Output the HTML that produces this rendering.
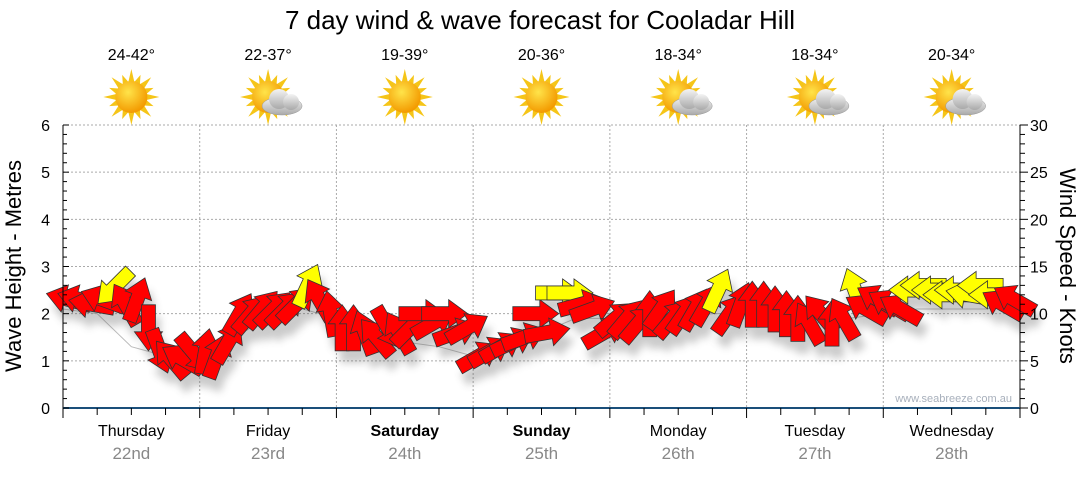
<!DOCTYPE html>
<html><head><meta charset="utf-8"><style>
body{margin:0;background:#fff;width:1080px;height:475px;overflow:hidden;font-family:"Liberation Sans",sans-serif}
svg text{font-family:"Liberation Sans","DejaVu Sans",sans-serif}
</style></head><body>
<svg id="c" width="1080" height="475">
<defs>
<filter id="sh" x="-50%" y="-50%" width="200%" height="200%"><feGaussianBlur stdDeviation="4"/></filter>
<radialGradient id="sun" cx="40%" cy="35%" r="65%"><stop offset="0" stop-color="#ffe44a"/><stop offset="1" stop-color="#f39a00"/></radialGradient>
<linearGradient id="cl" x1="0" y1="0" x2="0" y2="1"><stop offset="0" stop-color="#f4f4f4"/><stop offset="1" stop-color="#a9a9a9"/></linearGradient>
</defs>
<text x="540" y="29" font-size="26" text-anchor="middle" fill="#000">7 day wind &amp; wave forecast for Cooladar Hill</text>
<g id="grid"></g><g id="wave"></g><g id="shadows" filter="url(#sh)" opacity="0.3"></g><g id="arrows"></g><g id="axes"></g><g id="top"></g>
<text x="1012" y="402" font-size="11" fill="#a8b0bc" text-anchor="end">www.seabreeze.com.au</text>
<text transform="translate(21,266) rotate(-90)" font-size="22" text-anchor="middle">Wave Height - Metres</text>
<text transform="translate(1060,266) rotate(90)" font-size="22" text-anchor="middle">Wind Speed - Knots</text>
</svg>
<script>
const days=["Thursday","Friday","Saturday","Sunday","Monday","Tuesday","Wednesday"];
const dates=["22nd","23rd","24th","25th","26th","27th","28th"];
const temps=["24-42°","22-37°","19-39°","20-36°","18-34°","18-34°","20-34°"];
const cloudy=[0,1,0,0,1,1,1];
const windSpeed=[11.5,11.5,11,11.5,12.8,11,11.5,8.5,6,5.2,5.2,5.8,
6,5.5,7,10,10,10.5,10.5,10.5,11,13,11.5,10,
8.5,8.5,8,7.5,8.5,8,8.5,10,9,10,8,8.5,
5.5,6,6.5,7,7.5,10,8,12.2,12.2,11,10.5,8,
9.5,9.5,9,10,10.5,9.5,10,10.5,11,12.5,10,11,
11,11,10.5,10,9.5,9,10,9,9.5,12.5,10.5,11.5,
11,10.5,12.5,13,12.5,12,12.5,12,13,12,11,11.5];
const windDir=[285,285,280,290,225,330,20,180,160,320,300,140,
10,20,30,30,40,40,45,45,45,25,330,350,
0,0,340,320,150,330,45,90,60,90,70,60,
60,60,60,65,70,90,80,90,90,75,70,60,
50,40,40,0,35,40,35,30,30,25,35,20,
0,0,0,0,0,330,320,0,330,340,300,300,
300,300,270,270,270,270,270,280,270,270,300,300];
const yellow=[0,0,0,0,1,0,0,0,0,0,0,0, 0,0,0,0,0,0,0,0,0,1,0,0, 0,0,0,0,0,0,0,0,0,0,0,0,
0,0,0,0,0,0,0,1,1,0,0,0, 0,0,0,0,0,0,0,0,0,1,0,0, 0,0,0,0,0,0,0,0,0,1,0,0, 0,0,1,1,1,1,1,1,1,1,0,0];
const waveM=[2.1,2.0,1.3,1.1,1.2,1.5,1.9,2.1,1.9,1.6,1.4,1.3,1.1,1.3,1.6,1.9,1.9,1.8,1.9,2.0,2.0,1.9,1.8,1.9,2.0,2.1,2.1,2.1,2.2];
const X0=63,X1=1020,Y0=408,YT=125,HOURS=168;
const xs=h=>X0+h*(X1-X0)/HOURS, ym=m=>Y0-m*(Y0-YT)/6, yk=k=>Y0-k*(Y0-YT)/30;
const NS="http://www.w3.org/2000/svg";
function mk(p,t,a){const e=document.createElementNS(NS,t);for(const k in a)e.setAttribute(k,a[k]);p.appendChild(e);return e;}
const G=id=>document.getElementById(id);
for(let m=1;m<=6;m++){const l=mk(G('grid'),'line',{x1:X0,x2:X1,y1:ym(m),y2:ym(m),stroke:'#aaa','stroke-dasharray':'2,2'});

}
for(let d=1;d<7;d++){const l=mk(G('grid'),'line',{x1:xs(d*24),x2:xs(d*24),y1:YT,y2:Y0,stroke:'#aaa','stroke-dasharray':'2,2'});

}
const wl=mk(G('wave'),'polyline',{points:waveM.map((m,i)=>xs(i*6)+','+ym(m)).join(' '),fill:'none',stroke:'#bbb','stroke-width':1});


const A=G('axes');
mk(A,'line',{x1:X0,x2:X0,y1:YT,y2:Y0,stroke:'#000'});
mk(A,'line',{x1:X1,x2:X1,y1:YT,y2:Y0,stroke:'#000'});
mk(A,'line',{x1:X0,x2:X1,y1:Y0,y2:Y0,stroke:'#1a4f7a','stroke-width':2});
for(let i=0;i<=30;i++){const m=i/5,y=ym(m);mk(A,'line',{x1:X0,x2:X0+(i%5?4:6),y1:y,y2:y,stroke:'#000'});}
for(let m=0;m<=6;m++){const t=mk(A,'text',{x:50,y:ym(m)+6,'font-size':16,'text-anchor':'end'});t.textContent=m;

}
for(let k=0;k<=30;k++){const y=yk(k);mk(A,'line',{x1:X1,x2:X1+(k%5?5:8),y1:y,y2:y,stroke:'#000'});}
for(let k=0;k<=30;k+=5){const t=mk(A,'text',{x:1030,y:yk(k)+6,'font-size':16});t.textContent=k;

}
for(let h=0;h<=HOURS;h+=6){const x=xs(h);mk(A,'line',{x1:x,x2:x,y1:Y0,y2:Y0+(h%24?7:10),stroke:'#000'});}
windSpeed.forEach((k,i)=>{const x=xs(i*2+1),y=yk(k);
const pts="-7,23 7,23 7,-4 14,-4 0,-23 -14,-4 -7,-4";
mk(G('shadows'),'polygon',{points:pts,transform:`translate(${x+5},${y+12}) rotate(${windDir[i]})`,fill:'#555'});
const a=mk(G('arrows'),'polygon',{points:pts,transform:`translate(${x},${y}) rotate(${windDir[i]})`,fill:yellow[i]?'#ffff00':'#ff0000',stroke:'#333','stroke-width':0.8});

});
const T=G('top');
days.forEach((d,i)=>{const cx=xs(i*24+12);
const a=mk(T,'text',{x:cx,y:436,'font-size':16,'text-anchor':'middle','font-weight':(i==2||i==3)?'bold':'normal'});a.textContent=d;


const b=mk(T,'text',{x:cx,y:459,'font-size':17,'text-anchor':'middle',fill:'#888'});b.textContent=dates[i];


const c=mk(T,'text',{x:cx,y:60,'font-size':16,'text-anchor':'middle'});c.textContent=temps[i];


const g=mk(T,'g',{transform:`translate(${cx},${97})`});


for(let r=0;r<16;r++){mk(g,'polygon',{points:`-3,-15 0,${r%2?-24:-28} 3,-15`,fill:'#f5c518',transform:`rotate(${r*22.5})`});}
mk(g,'circle',{r:16,fill:'url(#sun)'});
if(cloudy[i]){const cg=mk(g,'g',{transform:'translate(14,5)'});
mk(cg,'ellipse',{cx:0,cy:4,rx:20,ry:9,fill:'url(#cl)',stroke:'#999','stroke-width':0.5});
mk(cg,'circle',{cx:-3,cy:-3,r:10,fill:'url(#cl)'});mk(cg,'circle',{cx:9,cy:0,r:8,fill:'url(#cl)'});}
});
</script>
</body></html>
